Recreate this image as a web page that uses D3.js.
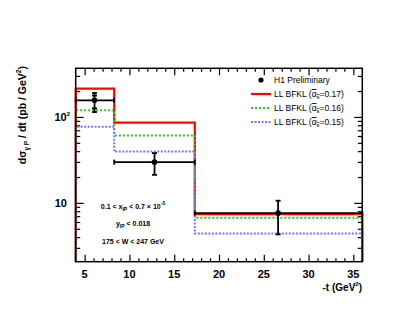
<!DOCTYPE html>
<html lang="en">
<head>
<meta charset="UTF-8">
<script src="https://cdn.jsdelivr.net/npm/d3@7"></script>
<title>H1 dsigma/dt</title>
<style>
  body { margin: 0; background: #fff; }
  svg { font-family: "Liberation Sans", Arial, sans-serif; }
</style>
</head>
<body>
<script>
// bin edges in -t (GeV^2)
const binEdges = [4, 8.3, 17.3, 36]
// LL BFKL predictions per bin
const bfkl017 = [213, 86, 7.4]
const bfkl016 = [120, 61, 6.7]
const bfkl015 = [77, 39.5, 4.4]
// H1 preliminary points
const dataT = [6.1, 12.8, 26.6]
const dataVal = [156, 29.8, 7.6]
const dataErrUp = [190, 38, 10.6]
const dataErrDn = [114, 21.2, 4.3]
const dataStatUp = [177, null, null]
const dataStatDn = [126, null, null]

const xMajor = [5, 10, 15, 20, 25, 30, 35]
const yMajor = [10, 100]
const yMajorLabels = [["10", ""], ["10", "2"]]

const width = 419, height = 324
const svg = d3.select("body").append("svg")
    .attr("width", width)
    .attr("height", height)

const x = d3.scaleLinear().domain([4, 36]).range([75.7, 362.3])
const y = d3.scaleLog().domain([2.07, 368]).range([261.7, 68.3])

const x0 = x.range()[0], x1 = x.range()[1]
const y0 = y.range()[0], y1 = y.range()[1]

// minor tick values
let xMinor = d3.range(5, 36, 1).filter(v => v % 5 != 0)
let yMinor = []
;[1, 10, 100].forEach(d => {
    for (let k = 2; k <= 9; k++) {
        let v = d * k
        if (v > y.domain()[0] && v < y.domain()[1]) yMinor.push(v)
    }
})

function axes(g, gen, vals, size) {
    g.call(gen.tickValues(vals).tickSize(size).tickFormat(""))
    g.select(".domain").remove()
    g.selectAll("line").attr("stroke", "#000").attr("stroke-width", 1.2)
}

svg.append("g").attr("transform", `translate(0,${y0})`).call(axes, d3.axisBottom(x), xMajor, -7)
svg.append("g").attr("transform", `translate(0,${y0})`).call(axes, d3.axisBottom(x), xMinor, -3.5)
svg.append("g").attr("transform", `translate(0,${y1})`).call(axes, d3.axisTop(x), xMajor, -7)
svg.append("g").attr("transform", `translate(0,${y1})`).call(axes, d3.axisTop(x), xMinor, -3.5)
svg.append("g").attr("transform", `translate(${x0},0)`).call(axes, d3.axisLeft(y), yMajor, -8)
svg.append("g").attr("transform", `translate(${x0},0)`).call(axes, d3.axisLeft(y), yMinor, -4.5)
svg.append("g").attr("transform", `translate(${x1},0)`).call(axes, d3.axisRight(y), yMajor, -8)
svg.append("g").attr("transform", `translate(${x1},0)`).call(axes, d3.axisRight(y), yMinor, -4.5)

// histograms
function stepPath(vals) {
    let pts = [[binEdges[0], y.domain()[0]]]
    vals.forEach((v, i) => {
        pts.push([binEdges[i], v])
        pts.push([binEdges[i + 1], v])
    })
    pts.push([binEdges[binEdges.length - 1], y.domain()[0]])
    return d3.line().x(d => x(d[0])).y(d => y(d[1]))(pts)
}

const models = [
    {vals: bfkl017, label: "0.17", color: "#ff0000", dash: null, w: 2.2},
    {vals: bfkl016, label: "0.16", color: "#22cc22", dash: "2,2", w: 2},
    {vals: bfkl015, label: "0.15", color: "#7777ff", dash: "2,1.5", w: 2}
]
models.forEach(m => {
    svg.append("path")
        .attr("d", stepPath(m.vals))
        .attr("fill", "none")
        .attr("stroke", m.color)
        .attr("stroke-width", m.w)
        .attr("stroke-dasharray", m.dash)
})

// data points
const pts = svg.append("g").attr("stroke", "#000").attr("stroke-width", 1.8)
dataT.forEach((t, i) => {
    let cx = x(t), cy = y(dataVal[i])
    let xl = x(binEdges[i]), xr = x(binEdges[i + 1])
    pts.append("line").attr("x1", xl).attr("x2", xr).attr("y1", cy).attr("y2", cy)
    pts.append("line").attr("x1", xl).attr("x2", xl).attr("y1", cy - 2.5).attr("y2", cy + 2.5)
    pts.append("line").attr("x1", xr).attr("x2", xr).attr("y1", cy - 2.5).attr("y2", cy + 2.5)
    pts.append("line").attr("x1", cx).attr("x2", cx).attr("y1", y(dataErrUp[i])).attr("y2", y(dataErrDn[i]))
    ;[dataErrUp[i], dataErrDn[i], dataStatUp[i], dataStatDn[i]].forEach(v => {
        if (v == null) return
        pts.append("line").attr("x1", cx - 2.5).attr("x2", cx + 2.5).attr("y1", y(v)).attr("y2", y(v))
    })
    svg.append("circle").attr("cx", cx).attr("cy", cy).attr("r", 2.8).attr("fill", "#000")
})

// frame
svg.append("rect")
    .attr("x", x0).attr("y", y1)
    .attr("width", x1 - x0).attr("height", y0 - y1)
    .attr("fill", "none").attr("stroke", "#000").attr("stroke-width", 1.5)

// tick labels
svg.append("g").selectAll("text").data(xMajor).join("text")
    .attr("x", d => x(d)).attr("y", 278)
    .attr("text-anchor", "middle")
    .attr("font-size", 11).attr("font-weight", "bold")
    .text(d => d)

yMajor.forEach((v, i) => {
    let t = svg.append("text")
        .attr("x", 67).attr("y", y(v) + 4)
        .attr("text-anchor", "end")
        .attr("font-size", 11).attr("font-weight", "bold")
    t.append("tspan").text(yMajorLabels[i][0])
    if (yMajorLabels[i][1]) {
        t.attr("x", 70)
        t.append("tspan").attr("dy", -5).attr("font-size", 6).text(yMajorLabels[i][1])
    }
})

// axis titles
let xt = svg.append("text")
    .attr("x", 362).attr("y", 291)
    .attr("text-anchor", "end")
    .attr("font-size", 10).attr("font-weight", "bold")
xt.append("tspan").text("-t (GeV")
xt.append("tspan").attr("dy", -5).attr("font-size", 6).text("2")
xt.append("tspan").attr("dy", 5).text(")")

let yt = svg.append("text")
    .attr("transform", "translate(26,66) rotate(-90)")
    .attr("text-anchor", "end")
    .attr("font-size", 10.5).attr("font-weight", "bold")
yt.append("tspan").text("d\u03c3")
yt.append("tspan").attr("dy", 3).attr("font-size", 6.5).text("\u03b3 P")
yt.append("tspan").attr("dy", -3).text(" / dt (pb / GeV")
yt.append("tspan").attr("dy", -5).attr("font-size", 6.5).text("2")
yt.append("tspan").attr("dy", 5).text(")")

// annotations
const ann = svg.append("g").attr("font-size", 7).attr("font-weight", "bold").attr("text-anchor", "middle")
let a1 = ann.append("text").attr("x", 133).attr("y", 209)
a1.append("tspan").text("0.1 < x")
a1.append("tspan").attr("dy", 2).attr("font-size", 5).text("IP")
a1.append("tspan").attr("dy", -2).text(" < 0.7 \u00d7 10")
a1.append("tspan").attr("dy", -4).attr("font-size", 5).text("-3")
let a2 = ann.append("text").attr("x", 133).attr("y", 226)
a2.append("tspan").text("y")
a2.append("tspan").attr("dy", 2).attr("font-size", 5).text("IP")
a2.append("tspan").attr("dy", -2).text(" < 0.018")
ann.append("text").attr("x", 133).attr("y", 244).text("175 < W < 247 GeV")

// legend
const legY = [83, 97, 111, 125]
const leg = svg.append("g").attr("font-size", 8.5)
leg.append("circle").attr("cx", 261).attr("cy", legY[0] - 3).attr("r", 2.6).attr("fill", "#000")
leg.append("text").attr("x", 274).attr("y", legY[0]).text("H1 Preliminary")
models.forEach((m, i) => {
    let ly = legY[i + 1]
    leg.append("line")
        .attr("x1", 251).attr("x2", 271).attr("y1", ly - 3).attr("y2", ly - 3)
        .attr("stroke", m.color).attr("stroke-width", m.w)
        .attr("stroke-dasharray", m.dash)
    let t = leg.append("text").attr("x", 274).attr("y", ly)
    t.append("tspan").text("LL BFKL (")
    t.append("tspan").attr("text-decoration", "overline").text("\u03b1")
    t.append("tspan").attr("dy", 2).attr("font-size", 6).attr("text-decoration", "overline").text("s")
    t.append("tspan").attr("dy", -2).text("=" + m.label + ")")
})
</script>
</body>
</html>
